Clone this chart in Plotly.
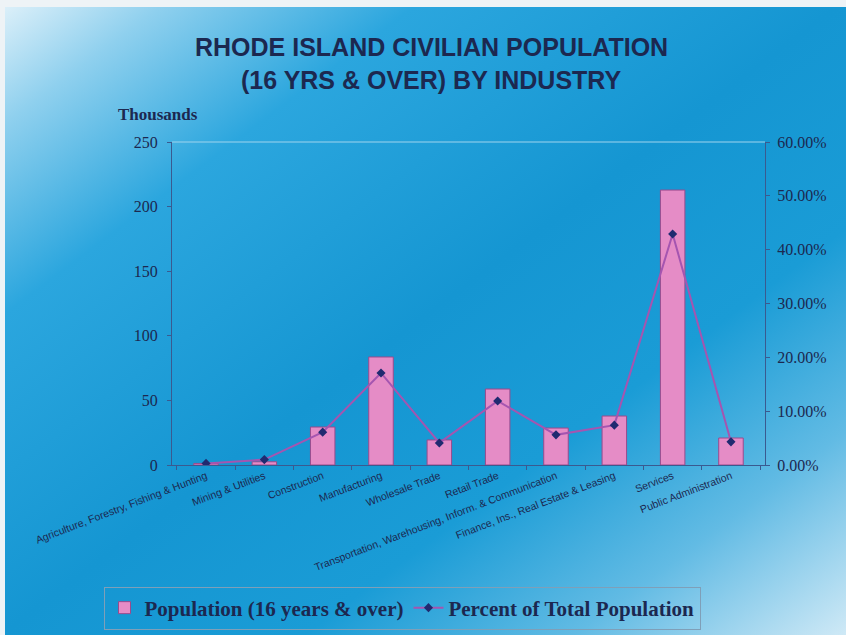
import base64
import plotly.graph_objects as go

categories = [
    "Agriculture, Forestry, Fishing & Hunting",
    "Mining & Utilities",
    "Construction",
    "Manufacturing",
    "Wholesale Trade",
    "Retail Trade",
    "Transportation, Warehousing, Inform. & Communication",
    "Finance, Ins., Real Estate & Leasing",
    "Services",
    "Public Administration",
]
population_thousands = [1.2, 2.5, 29.4, 83.6, 19.4, 58.8, 28.6, 37.9, 212.8, 20.9]
percent_of_total = [0.003, 0.010, 0.061, 0.171, 0.041, 0.119, 0.056, 0.074, 0.429, 0.043]

W, H = 846, 635
ML, MR, MT, MB = 172, 81, 142, 170
PW, PH = W - ML - MR, H - MT - MB

navy = "#1c2850"

svg = f"""<svg xmlns='http://www.w3.org/2000/svg' width='{W}' height='{H}' viewBox='0 0 {W} {H}' preserveAspectRatio='none'>
<defs>
<linearGradient id='g' x1='0' y1='0' x2='1' y2='1'>
<stop offset='0' stop-color='#e2f2fa'/>
<stop offset='0.1' stop-color='#8fd0ee'/>
<stop offset='0.25' stop-color='#2ba6de'/>
<stop offset='0.5' stop-color='#1596d2'/>
<stop offset='0.68' stop-color='#1a9cd6'/>
<stop offset='0.84' stop-color='#62bbe4'/>
<stop offset='1' stop-color='#cfe9f6'/>
</linearGradient>
</defs>
<rect x='0' y='0' width='{W}' height='{H}' fill='url(#g)'/>
<rect x='0' y='0' width='{W}' height='7' fill='#eef3f6'/>
<rect x='0' y='0' width='5' height='{H}' fill='#eef3f6'/>
</svg>"""
src = "data:image/svg+xml;base64," + base64.b64encode(svg.encode()).decode()

fig = go.Figure()
fig.add_trace(go.Bar(
    x=categories, y=population_thousands, name="Population (16 years & over)",
    marker=dict(color="#e58cc6", line=dict(color="#9a4a8c", width=1)),
    width=0.42, yaxis="y",
))
fig.add_trace(go.Scatter(
    x=categories, y=percent_of_total, name="Percent of Total Population",
    mode="lines+markers", yaxis="y2",
    line=dict(color="#a555b0", width=2),
    marker=dict(symbol="diamond", size=7, color="#202a70"),
))

tickfont = dict(family="Liberation Serif", size=16, color=navy)

fig.update_layout(
    width=W, height=H,
    margin=dict(l=ML, r=MR, t=MT, b=MB, autoexpand=False),
    paper_bgcolor="#1a9ad6",
    plot_bgcolor="rgba(0,0,0,0)",
    showlegend=True,
    legend=dict(
        orientation="h", x=(402 - ML) / PW, xanchor="center",
        y=(MT + PH - 608) / PH, yanchor="middle",
        font=dict(family="Liberation Serif", size=21, color=navy, weight="bold"),
        bordercolor="#7f9fb8", borderwidth=1, bgcolor="rgba(0,0,0,0)",
        itemwidth=30,
    ),
    xaxis=dict(
        tickangle=-21, tickfont=dict(family="Liberation Sans", size=10.5, color=navy),
        showline=True, linecolor="#3a5a90", linewidth=1,
        ticks="outside", ticklen=4, tickcolor="#3a5a90", tickson="boundaries",
        showgrid=False, automargin=False,
    ),
    yaxis=dict(
        range=[0, 250], dtick=50, tickfont=tickfont,
        showline=True, linecolor="#3a5a90", linewidth=1,
        ticks="outside", ticklen=4, tickcolor="#3a5a90", ticklabelstandoff=6,
        showgrid=False, zeroline=False, automargin=False,
    ),
    yaxis2=dict(
        range=[0, 0.6], dtick=0.1, tickformat=".2%", tickfont=tickfont,
        overlaying="y", side="right",
        showline=True, linecolor="#3a5a90", linewidth=1,
        ticks="outside", ticklen=4, tickcolor="#3a5a90", ticklabelstandoff=4,
        showgrid=False, zeroline=False, automargin=False,
    ),
    images=[dict(
        source=src, xref="paper", yref="paper",
        x=-ML / PW, y=1 + MT / PH, sizex=W / PW, sizey=H / PH,
        sizing="stretch", xanchor="left", yanchor="top", layer="below",
    )],
    shapes=[dict(type="line", xref="paper", yref="paper", x0=0, x1=1, y0=1, y1=1,
                 line=dict(color="#9fd4ee", width=1))],
    annotations=[
        dict(text="<b>RHODE ISLAND CIVILIAN POPULATION</b>", xref="paper", yref="paper",
             x=(431 - ML) / PW, y=(MT + PH - 47) / PH, xanchor="center", yanchor="middle",
             showarrow=False, font=dict(family="Liberation Sans", size=25, color=navy)),
        dict(text="<b>(16 YRS &amp; OVER) BY INDUSTRY</b>", xref="paper", yref="paper",
             x=(431 - ML) / PW, y=(MT + PH - 80) / PH, xanchor="center", yanchor="middle",
             showarrow=False, font=dict(family="Liberation Sans", size=25, color=navy)),
        dict(text="<b>Thousands</b>", xref="paper", yref="paper",
             x=(158 - ML) / PW, y=(MT + PH - 115) / PH, xanchor="center", yanchor="middle",
             showarrow=False, font=dict(family="Liberation Serif", size=17, color=navy)),
    ],
)

fig.write_html("out.html")
